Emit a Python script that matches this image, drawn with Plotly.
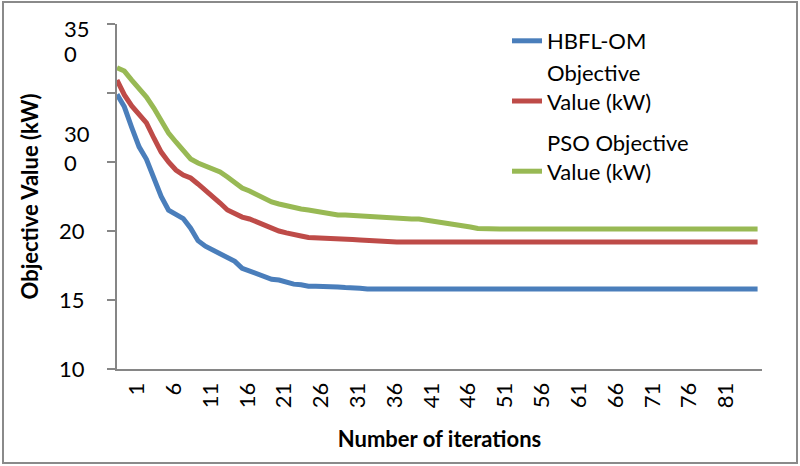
import plotly.graph_objects as go

iterations = list(range(1, 89))

hbfl_om = [29.9, 29.0, 27.5, 26.1, 25.2, 23.9, 22.5, 21.5, 21.2, 20.9,
           20.2, 19.3, 18.9, 18.6, 18.3, 18.1, 17.8, 17.3, 17.1, 16.9,
           16.7, 16.5, 16.45, 16.3, 16.15, 16.1, 16.0, 16.0, 16.0, 16.0,
           15.95, 15.9, 15.9, 15.85] + [15.8] * 54

red_series = [30.94, 29.86, 29.06, 28.41, 27.83, 26.74, 25.72, 25.0, 24.42, 24.06,
              23.84, 23.41, 22.97, 22.54, 22.03, 21.52, 21.23, 21.01, 20.87, 20.65,
              20.36, 20.14, 20.0, 19.86, 19.71, 19.64, 19.53, 19.49, 19.49, 19.49,
              19.46, 19.42, 19.38, 19.35, 19.31, 19.24] + [19.2] * 52

pso = [31.83, 31.59, 30.94, 30.36, 29.71, 28.91, 28.04, 27.1, 26.45, 25.87,
       25.22, 24.93, 24.71, 24.49, 24.28, 23.91, 23.48, 23.12, 22.9, 22.61,
       22.39, 22.1, 21.96, 21.81, 21.7, 21.59, 21.52, 21.41, 21.3, 21.23,
       21.16, 21.16, 21.12, 21.09, 21.05, 21.01, 20.94, 20.9, 20.9, 20.9,
       20.87, 20.87, 20.8, 20.69, 20.58, 20.51, 20.43, 20.36, 20.29, 20.18,
       20.14] + [20.14] * 37

x_tick_vals = list(range(1, 82, 5))
x_tick_text = [str(v) for v in x_tick_vals]
y_tick_vals = [10, 15, 20, 25, 30, 35]
y_tick_text = ["10", "15", "20", "", "", ""]

names = ["HBFL-OM", "Objective<br>Value (kW)", "PSO Objective<br>Value (kW)"]
colors = ["#4a7ebb", "#be4b48", "#98b954"]
groups = ["a", "a", "b"]

FONT = "Lato, 'Open Sans', sans-serif"

fig = go.Figure()
for ys, nm, c, g in zip([hbfl_om, red_series, pso], names, colors, groups):
    fig.add_trace(go.Scatter(x=iterations, y=ys, mode="lines", name=nm,
                             legendgroup=g,
                             line=dict(color=c, width=5)))

W, H = 800, 466
L, R, T, B = 117, 38, 24, 97
pw, ph = W - L - R, H - T - B

def px2x(px):
    return (px - L) / pw

def py2y(py):
    return (H - B - py) / ph

annotations = []
for txt, ypx in [("35", 29), ("0", 53), ("30", 133), ("0", 162)]:
    annotations.append(dict(text=txt, xref="paper", yref="paper",
                            x=px2x(62), y=py2y(ypx), xanchor="left", yanchor="middle",
                            showarrow=False, font=dict(size=22, color="#000", family=FONT)))

fig.update_layout(
    width=W, height=H,
    margin=dict(l=L, r=R, t=T, b=B),
    paper_bgcolor="white", plot_bgcolor="white",
    font=dict(family=FONT, size=22, color="#000"),
    showlegend=True,
    legend=dict(x=px2x(507), y=py2y(20), xanchor="left", yanchor="top",
                valign="bottom", traceorder="grouped", tracegroupgap=10,
                bgcolor="rgba(0,0,0,0)", font=dict(size=22, color="#000")),
    xaxis=dict(range=[1, 88.6], tickmode="array", tickvals=x_tick_vals, ticktext=x_tick_text,
               tickangle=-90, ticks="", showgrid=False, zeroline=False,
               showline=True, linecolor="#868686", linewidth=2,
               ticklabelshift=20, ticklabelstandoff=3,
               tickfont=dict(size=22, color="#000"),
               title=dict(text="<b>Number of iterations</b>", font=dict(size=22), standoff=24),
               automargin=False),
    yaxis=dict(range=[10, 35], tickmode="array", tickvals=y_tick_vals, ticktext=y_tick_text,
               ticks="outside", ticklen=8, tickcolor="#868686", tickwidth=2,
               showgrid=False, zeroline=False,
               showline=True, linecolor="#868686", linewidth=2,
               ticklabelstandoff=18,
               tickfont=dict(size=22, color="#000"),
               title=dict(text="<b>Objective Value (kW)</b>", font=dict(size=22), standoff=14),
               automargin=False),
    annotations=annotations,
    shapes=[dict(type="rect", xref="paper", yref="paper",
                 x0=px2x(3), x1=px2x(797), y0=py2y(463), y1=py2y(2),
                 line=dict(color="#8a8a8a", width=2), fillcolor="rgba(0,0,0,0)", layer="below")],
)

fig.write_html("out.html")
